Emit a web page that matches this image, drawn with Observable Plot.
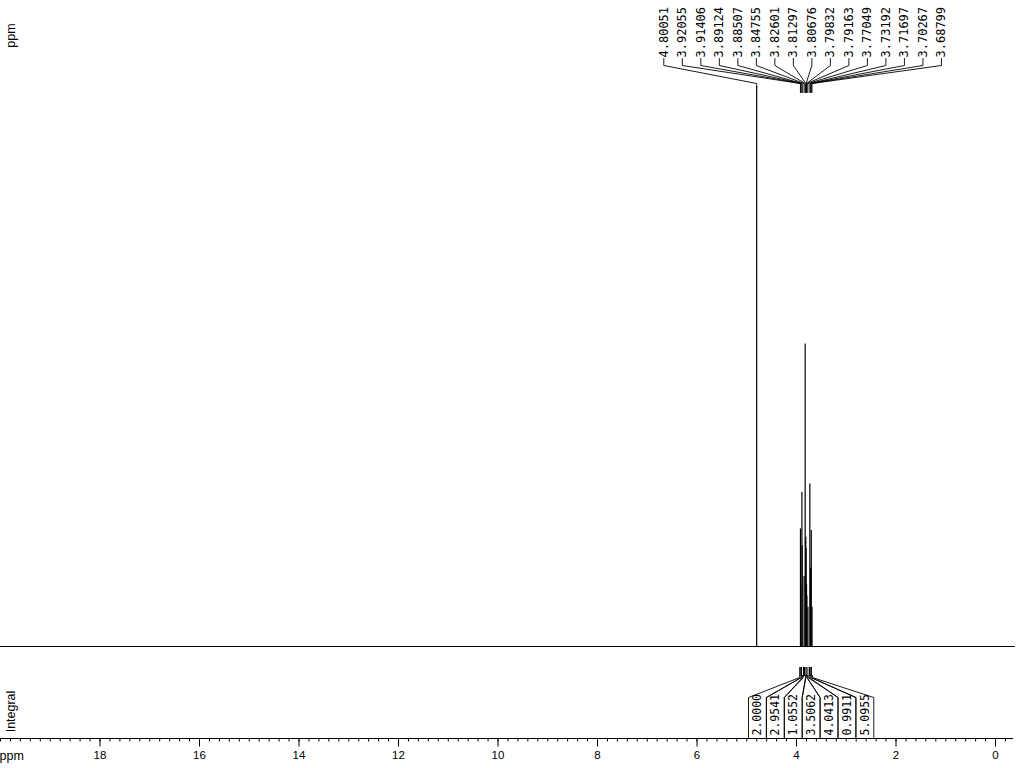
<!DOCTYPE html>
<html><head><meta charset="utf-8">
<script src="https://cdn.jsdelivr.net/npm/d3@7"></script>
<script src="https://cdn.jsdelivr.net/npm/@observablehq/plot@0.6"></script>
<style>body{margin:0;background:#fff}#chart svg{display:block}</style>
</head><body><div id="chart"></div>
<script>
// ---- data ----
const peakShifts = [4.80051, 3.92055, 3.91406, 3.89124, 3.88507, 3.84755, 3.82601, 3.81297,
                    3.80676, 3.79832, 3.79163, 3.77049, 3.73192, 3.71697, 3.70267, 3.68799];
const peakHeights = [100, 21, 11, 27.5, 18, 12.5, 54, 19.5, 17.5, 11, 9, 7, 29, 14, 20.7, 7];
const peakLabels = ["4.80051","3.92055","3.91406","3.89124","3.88507","3.84755","3.82601","3.81297",
                    "3.80676","3.79832","3.79163","3.77049","3.73192","3.71697","3.70267","3.68799"];
const integralLabels = ["2.0000","2.9541","1.0552","3.5062","4.0413","0.9911","5.0955"];
const integralStart = [3.935, 3.903, 3.860, 3.810, 3.788, 3.745, 3.710];
const integralEnd   = [3.905, 3.880, 3.818, 3.790, 3.768, 3.712, 3.680];
const majorTicks = [0, 2, 4, 6, 8, 10, 12, 14, 16, 18];
const majorTickLabels = ["0","2","4","6","8","10","12","14","16","18"];

// ---- scales ----
const xOpts = {domain: [20, 0], range: [0, 995]};
const yOpts = {domain: [0, 100], range: [646, 86]};
const xs = Plot.scale({x: xOpts});
const ys = Plot.scale({y: yOpts});
const px = p => xs.invert(p);   // pixel -> ppm
const py = p => ys.invert(p);   // pixel -> intensity units

const peaks = peakShifts.map((s, i) => ({ppm: s, h: peakHeights[i], label: peakLabels[i], i}));
const minorTicks = d3.range(-1, 101).map(i => i / 5);
const majors = majorTicks.map((t, i) => ({t, label: majorTickLabels[i]}));

// peak label layout
const labelX0 = 663.3, labelStep = 18.51;
peaks.forEach(p => { p.lx = px(labelX0 + p.i * labelStep); });
const peakConn = [];
peaks.forEach(p => {
  const yEnd = p.i === 0 ? 86 : 92;
  peakConn.push({id: p.i, x: p.lx, y: py(58)});
  peakConn.push({id: p.i, x: p.lx, y: py(65)});
  peakConn.push({id: p.i, x: p.ppm, y: py(83)});
  peakConn.push({id: p.i, x: p.ppm, y: py(yEnd)});
});

// integral label layout
const boxLeft = 748, boxStep = 17.9;
const integrals = integralLabels.map((l, i) => ({
  label: l, a: integralStart[i], b: integralEnd[i],
  cx: px(boxLeft + (i + 0.5) * boxStep),
  l: px(boxLeft + i * boxStep), r: px(boxLeft + (i + 1) * boxStep)
}));
const intConn = [];
integrals.forEach((g, i) => {
  [[g.l, g.a, "L"], [g.r, g.b, "R"]].forEach(([e, t, s]) => {
    intConn.push({id: i + s, x: e, y: py(737)});
    intConn.push({id: i + s, x: e, y: py(697)});
    intConn.push({id: i + s, x: t, y: py(677)});
    intConn.push({id: i + s, x: t, y: py(675)});
  });
});

const mono = "DejaVu Sans Mono, monospace";
const sans = "Liberation Sans, Arial, sans-serif";

const chart = Plot.plot({
  width: 1024, height: 768,
  marginTop: 0, marginRight: 0, marginBottom: 0, marginLeft: 0,
  x: {...xOpts, axis: null},
  y: {...yOpts, axis: null},
  style: {background: "#fff", color: "#000"},
  marks: [
    // spectrum baseline and peaks
    Plot.ruleY([0], {x1: 20, x2: px(1015), stroke: "#000", strokeWidth: 1}),
    Plot.ruleX(peaks, {x: "ppm", y1: 0, y2: "h", stroke: "#000", strokeWidth: 1.2}),
    // peak labels
    Plot.line(peakConn, {x: "x", y: "y", z: "id", stroke: "#000", strokeWidth: 0.9}),
    Plot.text(peaks, {x: "lx", y: () => py(57), text: "label", rotate: -90, textAnchor: "start",
      lineAnchor: "middle", fontFamily: mono, fontSize: 12, fill: "#000"}),
    // integrals
    Plot.rect(integrals, {x1: "a", x2: "b", y1: () => py(676), y2: () => py(667), fill: "#000"}),
    Plot.line(intConn, {x: "x", y: "y", z: "id", stroke: "#000", strokeWidth: 0.9}),
    Plot.text(integrals, {x: "cx", y: () => py(735), text: "label", rotate: -90, textAnchor: "start",
      lineAnchor: "middle", fontFamily: mono, fontSize: 11.5, fill: "#000"}),
    // x axis
    Plot.ruleY([py(738)], {x1: 20, x2: px(1013), stroke: "#000", strokeWidth: 1}),
    Plot.ruleX(minorTicks, {x: d => d, y1: () => py(738), y2: () => py(741.5), stroke: "#000", strokeWidth: 1}),
    Plot.ruleX(majors, {x: "t", y1: () => py(738), y2: () => py(746.5), stroke: "#000", strokeWidth: 1}),
    Plot.text(majors, {x: "t", y: () => py(755), text: "label", fontFamily: sans, fontSize: 11.5, fill: "#000"}),
    Plot.text(["ppm"], {x: () => px(-1), y: () => py(755), text: d => d, textAnchor: "start", fontFamily: sans, fontSize: 12.5, fill: "#000"}),
    // side labels
    Plot.text(["ppm"], {x: () => px(10), y: () => py(35), text: d => d, rotate: -90, fontFamily: sans, fontSize: 12.5, fill: "#000"}),
    Plot.text(["Integral"], {x: () => px(10), y: () => py(711), text: d => d, rotate: -90, fontFamily: sans, fontSize: 12.5, fill: "#000"})
  ]
});
document.getElementById("chart").appendChild(chart);
</script>
</body></html>
